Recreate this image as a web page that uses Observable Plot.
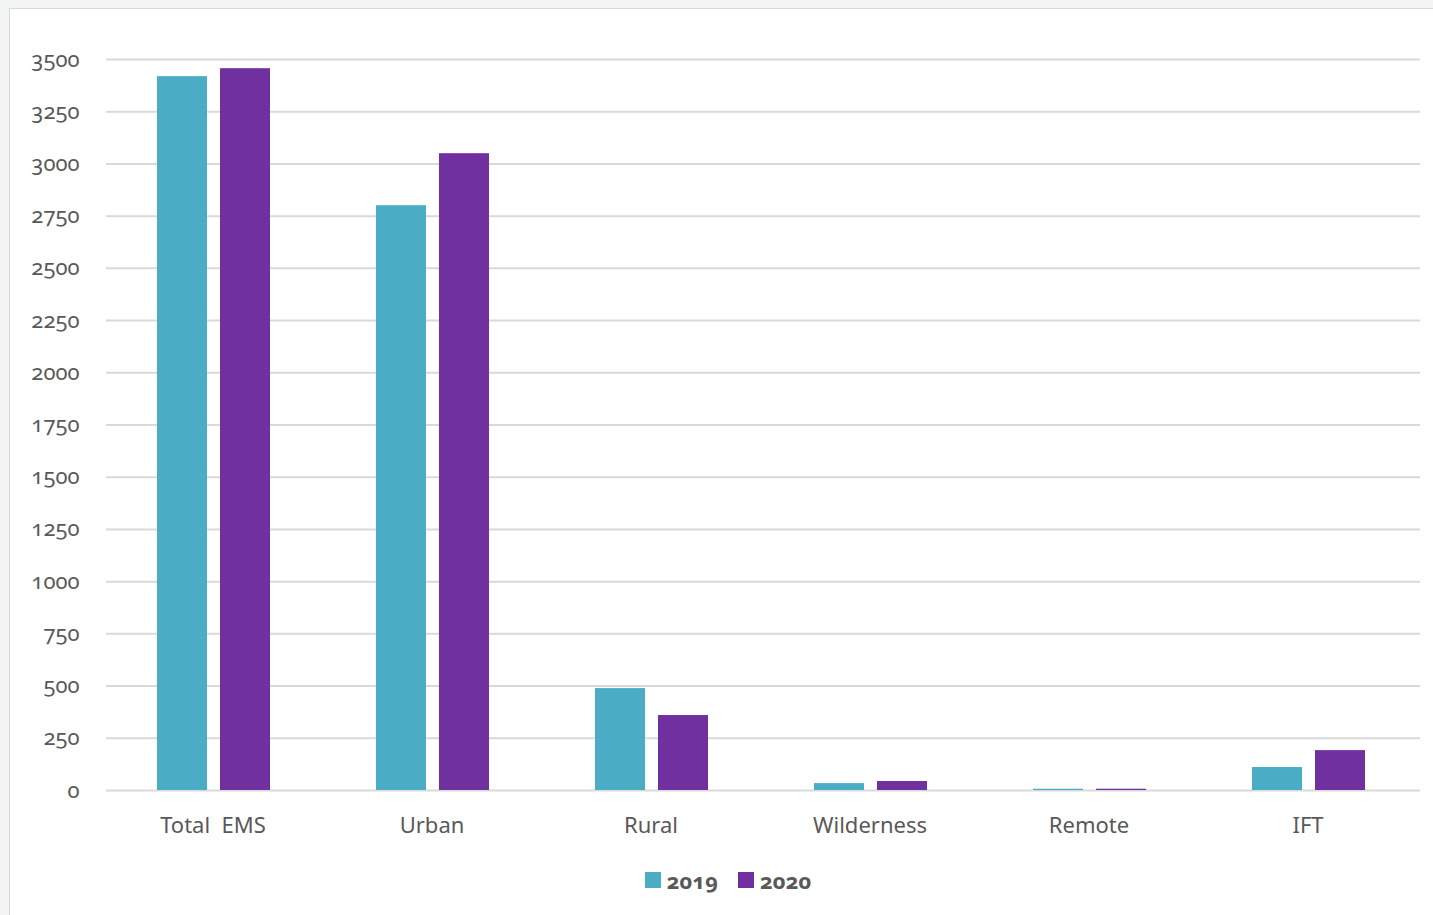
<!DOCTYPE html>
<html>
<head>
<meta charset="utf-8">
<script src="https://cdn.jsdelivr.net/npm/d3@7"></script>
<script src="https://cdn.jsdelivr.net/npm/@observablehq/plot@0.6"></script>
<style>
  html, body { margin: 0; padding: 0; background: #f3f4f5; width: 1433px; height: 915px; overflow: hidden; }
  #frame { position: absolute; left: 9px; top: 8px; width: 1440px; height: 920px; background: #fff; border: 1px solid #d9d9d9; box-sizing: border-box; }
  #chart { position: absolute; left: 0; top: 0; }
  #legend { position: absolute; left: -6px; top: 856px; width: 1448px; display: flex; justify-content: center; gap: 20px; font-family: "Noto Sans", "Open Sans", sans-serif; font-weight: bold; font-size: 22px; color: #595959; font-variant-numeric: oldstyle-nums; }
  #legend .item { display: flex; align-items: center; gap: 6px; }
  #legend .sw { width: 16px; height: 16px; display: inline-block; }
  svg text { font-variant-numeric: oldstyle-nums; }
</style>
</head>
<body>
<div id="frame">
  <div id="chart"></div>
  <div id="legend"></div>
</div>
<script>
const categories = ["Total  EMS", "Urban", "Rural", "Wilderness", "Remote", "IFT"];
const years = ["2019", "2020"];
const values2019 = [3418, 2800, 488, 33, 6, 110];
const values2020 = [3456, 3049, 359, 43, 6, 191];
const yTicks = [0, 250, 500, 750, 1000, 1250, 1500, 1750, 2000, 2250, 2500, 2750, 3000, 3250, 3500];
const colors = ["#4BACC6", "#7030A0"];

const d2019 = categories.map((c, i) => ({category: c, year: "2019", value: values2019[i]}));
const d2020 = categories.map((c, i) => ({category: c, year: "2020", value: values2020[i]}));

const fontFamily = '"Noto Sans", "Open Sans", sans-serif';

const chart = Plot.plot({
  width: 1423,
  height: 850,
  marginLeft: 96,
  marginRight: 13,
  marginTop: 50,
  marginBottom: 69,
  style: {fontFamily, fontSize: "20px", color: "#595959", background: "transparent", overflow: "visible"},
  x: {domain: categories, paddingInner: 0.485, paddingOuter: 0.235, label: null},
  y: {domain: [0, 3500], label: null},
  marks: [
    Plot.ruleY(yTicks, {stroke: "#d9d9d9", strokeWidth: 2}),
    Plot.barY(d2019, {x: "category", y: "value", fill: colors[0], insetRight: 63, dx: -2}),
    Plot.barY(d2020, {x: "category", y: "value", fill: colors[1], insetLeft: 63, dx: -2}),
    Plot.axisY(yTicks, {tickSize: 0, tickPadding: 27, fontSize: 22, fill: "#595959", label: null, tickFormat: d => String(d)}),
    Plot.axisX({tickSize: 0, tickPadding: 27, fontSize: 22, fill: "#595959", label: null, dx: -3})
  ]
});
document.getElementById("chart").appendChild(chart);

const legend = document.getElementById("legend");
years.forEach((y, i) => {
  const item = document.createElement("span");
  item.className = "item";
  const sw = document.createElement("span");
  sw.className = "sw";
  sw.style.background = colors[i];
  const t = document.createElement("span");
  t.textContent = y;
  item.appendChild(sw);
  item.appendChild(t);
  legend.appendChild(item);
});
</script>
</body>
</html>
